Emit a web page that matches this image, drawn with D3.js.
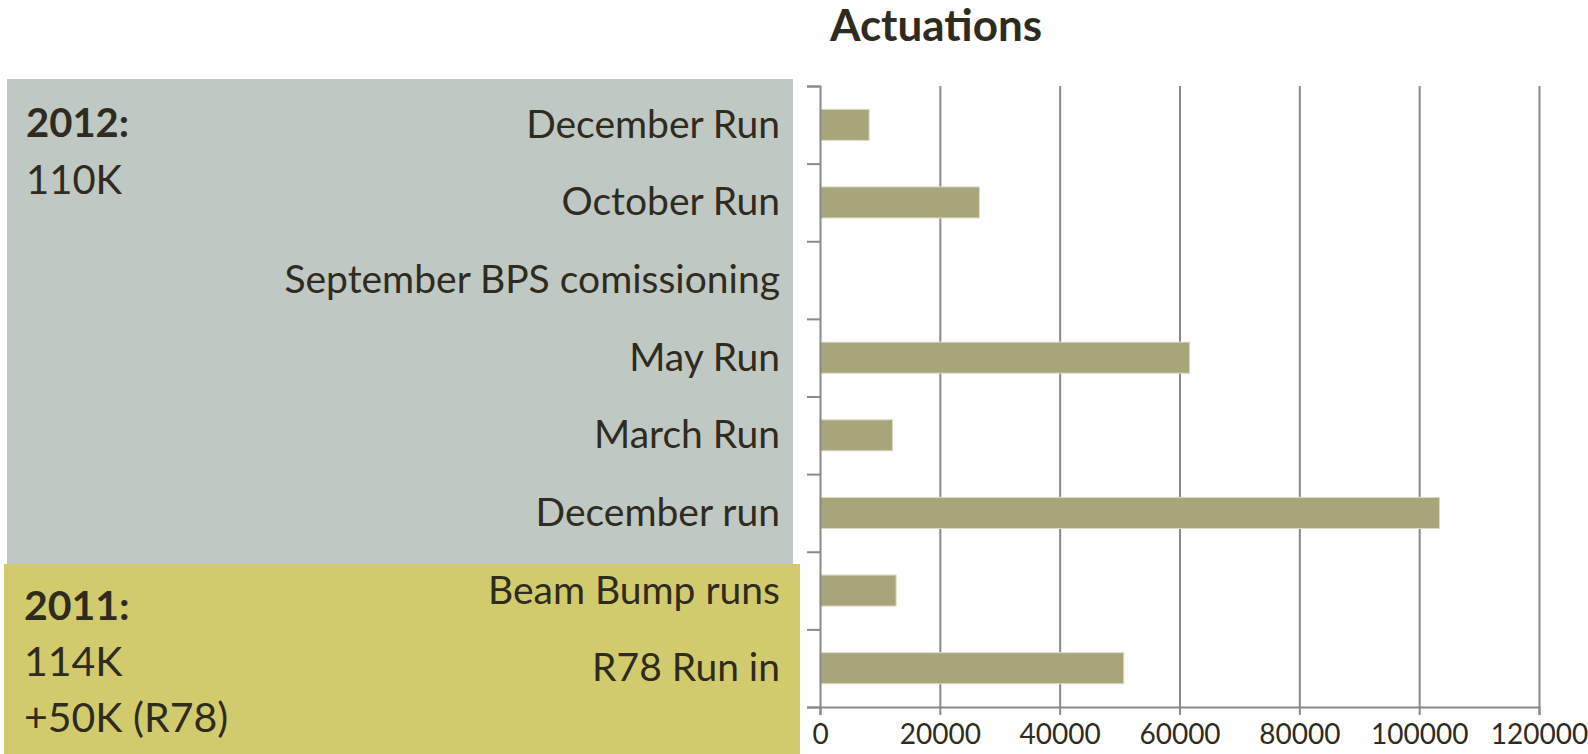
<!DOCTYPE html>
<head>
  <style>
    body { margin: 0; background: #fff; }
    svg { display: block; }
    text { font-family: Lato, "Open Sans", sans-serif; fill: #2f2b1f; }
  </style>
</head>
<body>
  <script src="https://cdn.jsdelivr.net/npm/d3@7/dist/d3.min.js"></script>
  <script>
    // chart data, top to bottom
    var categories = ["December Run", "October Run", "September BPS comissioning", "May Run",
                      "March Run", "December run", "Beam Bump runs", "R78 Run in"]
    var actuations = [8200, 26600, 0, 61700, 12100, 103400, 12700, 50700]
    var xTicks = [0, 20000, 40000, 60000, 80000, 100000, 120000]

    // year summary boxes
    var year2012 = ["2012:", "110K"]
    var year2011 = ["2011:", "114K", "+50K (R78)"]

    var w = 1588
    var h = 754
    // plot edges (not "top": that name is taken by window.top)
    var plotL = 820, plotR = 1539, plotT = 86, plotB = 707

    var svg = d3.select("body")
                .append("svg")
                .attr("width", w)
                .attr("height", h)

    // background boxes
    svg.append("rect")
        .attr("x", 7).attr("y", 79)
        .attr("width", 786).attr("height", 486)
        .attr("fill", "#c0c8c4")
    svg.append("rect")
        .attr("x", 4).attr("y", 564)
        .attr("width", 796).attr("height", 190)
        .attr("fill", "#d2cb6e")

    // scales
    var x = d3.scaleLinear()
              .domain([0, 120000])
              .range([plotL, plotR])

    var y = d3.scaleBand()
              .domain(categories)
              .range([plotT, plotB])
              .paddingInner(0.6)
              .paddingOuter(0.3)

    // boundaries between categories for the left ticks
    var yEdge = d3.scaleLinear()
                  .domain([0, categories.length])
                  .range([plotT, plotB])

    // vertical grid lines
    svg.append("g")
        .attr("transform", "translate(0," + plotB + ")")
        .call(d3.axisBottom(x).tickValues(xTicks.slice(1)).tickSize(-(plotB - plotT)).tickFormat(""))
        .call(function(g) {
          g.select(".domain").remove()
          g.selectAll("line").attr("stroke", "#8a8a8a").attr("stroke-width", 2)
        })

    // bars
    svg.selectAll("rect.bar")
        .data(actuations)
        .enter()
        .append("rect")
        .attr("class", "bar")
        .attr("x", x(0))
        .attr("y", function(d, i) { return y(categories[i]) })
        .attr("width", function(d) { return x(d) - x(0) })
        .attr("height", y.bandwidth())
        .attr("fill", "#a8a57b")
        .attr("stroke", function(d) { return d > 0 ? "#dddbc8" : "none" })
        .attr("stroke-width", 1)

    // x axis
    svg.append("g")
        .attr("transform", "translate(0," + plotB + ")")
        .call(d3.axisBottom(x).tickValues(xTicks).tickSize(8).tickPadding(9).tickFormat(d3.format("d")))
        .call(function(g) {
          g.select(".domain").attr("stroke", "#8a8a8a").attr("stroke-width", 2)
          g.selectAll("line").attr("stroke", "#8a8a8a").attr("stroke-width", 2)
          g.selectAll("text").attr("font-size", 28).attr("font-family", "Lato").attr("fill", "#2f2b1f")
        })

    // y axis with ticks on category edges
    svg.append("g")
        .attr("transform", "translate(" + plotL + ",0)")
        .call(d3.axisLeft(yEdge).tickValues(d3.range(categories.length + 1)).tickSize(13).tickFormat(""))
        .call(function(g) {
          g.select(".domain").attr("stroke", "#8a8a8a").attr("stroke-width", 2)
          g.selectAll("line").attr("stroke", "#8a8a8a").attr("stroke-width", 2)
        })

    // category labels
    svg.selectAll("text.cat")
        .data(categories)
        .enter()
        .append("text")
        .attr("class", "cat")
        .attr("x", 780)
        .attr("y", function(d) { return y(d) + y.bandwidth() / 2 + 13 })
        .attr("text-anchor", "end")
        .attr("font-size", 39)
        .text(function(d) { return d })

    // year summaries
    svg.selectAll("text.y2012")
        .data(year2012)
        .enter()
        .append("text")
        .attr("x", 26)
        .attr("y", function(d, i) { return 137 + i * 57 })
        .attr("font-size", 40)
        .attr("font-weight", function(d, i) { return i == 0 ? "bold" : "normal" })
        .text(function(d) { return d })

    svg.selectAll("text.y2011")
        .data(year2011)
        .enter()
        .append("text")
        .attr("x", 24)
        .attr("y", function(d, i) { return 620 + i * 56 })
        .attr("font-size", 41)
        .attr("font-weight", function(d, i) { return i == 0 ? "bold" : "normal" })
        .text(function(d) { return d })

    // title
    svg.append("text")
        .attr("x", 936)
        .attr("y", 41)
        .attr("text-anchor", "middle")
        .attr("font-size", 44)
        .attr("font-weight", "bold")
        .text("Actuations")
  </script>
</body>
